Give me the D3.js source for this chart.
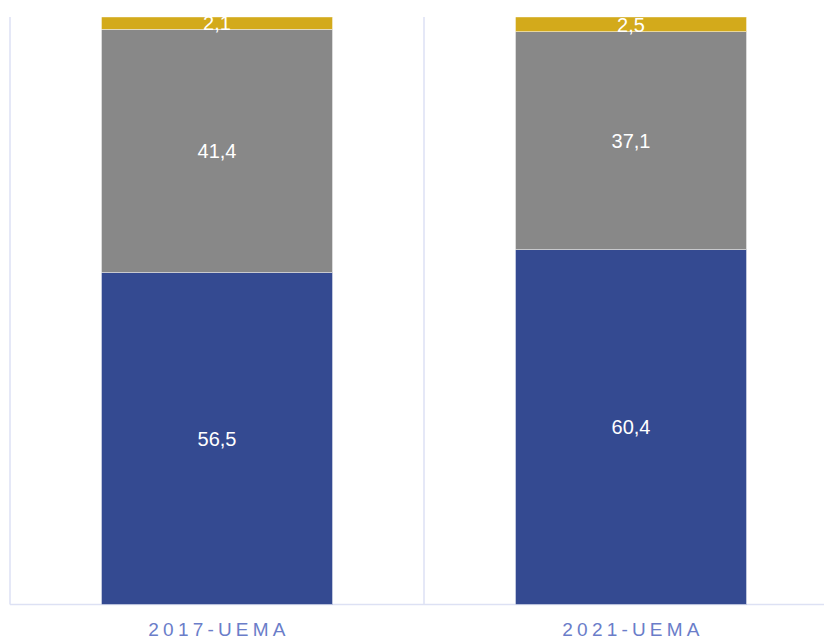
<!doctype html>
<html lang="pt">
<head>
<meta charset="utf-8">
<title>UEMA</title>
<script src="https://d3js.org/d3.v7.min.js"></script>
<style>
    html, body { margin: 0; padding: 0; background: #fff; }
    svg { display: block; }
    .val { fill: #fff; font-family: "Liberation Sans", Arial, sans-serif; font-size: 20px; }
    .cat { fill: #6a7dc9; font-family: "Liberation Sans", Arial, sans-serif; font-size: 19px; letter-spacing: 4.2px; }
</style>
</head>
<body>
<svg width="824" height="639"></svg>
<script>
    // data
    var categories = ["2017-UEMA", "2021-UEMA"];
    var seriesNames = ["azul", "cinza", "amarelo"];
    var azul = [56.5, 60.4];
    var cinza = [41.4, 37.1];
    var amarelo = [2.1, 2.5];
    var colors = ["#344a91", "#888888", "#d3aa1b"];

    var svg = d3.select("svg"),
        width = +svg.attr("width"),
        height = +svg.attr("height");

    var x0 = 10, x1 = 838, yTop = 17, yBase = 604.5;

    var x = d3.scaleBand().domain(categories).range([x0, x1]).paddingInner(0).paddingOuter(0);
    var y = d3.scaleLinear().domain([0, 100]).range([yBase, yTop]);
    var barW = x.bandwidth() * 0.558;

    var rows = categories.map(function (c, i) {
        return { cat: c, azul: azul[i], cinza: cinza[i], amarelo: amarelo[i] };
    });
    var stack = d3.stack().keys(seriesNames)(rows);

    // grid
    var grid = svg.append("g").attr("stroke", "#dde1f4").attr("stroke-width", 1.5);
    categories.forEach(function (c) {
        grid.append("line")
            .attr("x1", x(c)).attr("x2", x(c))
            .attr("y1", yTop).attr("y2", yBase);
    });
    grid.append("line")
        .attr("x1", x0).attr("x2", width)
        .attr("y1", yBase).attr("y2", yBase);

    var layers = svg.append("g").selectAll("g")
        .data(stack)
        .enter().append("g")
        .attr("fill", function (d, i) { return colors[i]; });

    layers.selectAll("rect")
        .data(function (d) { return d; })
        .enter().append("rect")
        .attr("x", function (d) { return x(d.data.cat) + (x.bandwidth() - barW) / 2; })
        .attr("width", barW)
        .attr("y", function (d) { return y(d[1]); })
        .attr("height", function (d) { return y(d[0]) - y(d[1]); })
        .attr("stroke", "#ffffff")
        .attr("stroke-width", 0.4);

    layers.selectAll("text")
        .data(function (d) { return d; })
        .enter().append("text")
        .attr("class", "val")
        .attr("text-anchor", "middle")
        .attr("dy", "0.36em")
        .attr("x", function (d) { return x(d.data.cat) + x.bandwidth() / 2; })
        .attr("y", function (d) { return (y(d[0]) + y(d[1])) / 2; })
        .text(function (d) { return d3.format(".1f")(d[1] - d[0]).replace(".", ","); });

    // category labels
    svg.append("g").selectAll("text")
        .data(categories)
        .enter().append("text")
        .attr("class", "cat")
        .attr("text-anchor", "middle")
        .attr("x", function (d) { return x(d) + x.bandwidth() / 2 + 2; })
        .attr("y", 636)
        .text(function (d) { return d; });
</script>
</body>
</html>
